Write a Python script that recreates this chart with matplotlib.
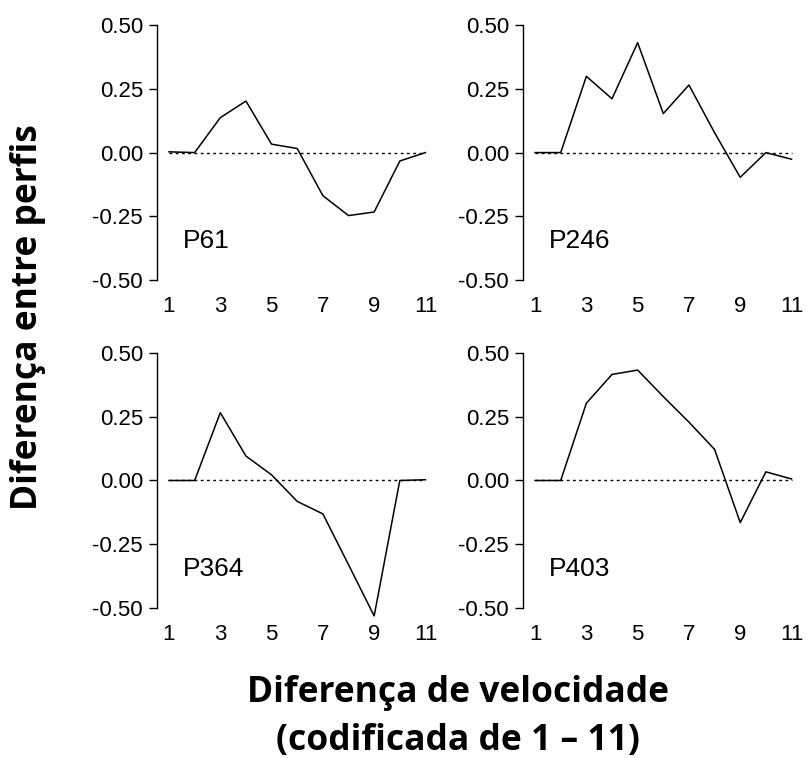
import matplotlib
matplotlib.use("Agg")
import matplotlib.pyplot as plt

x = list(range(1, 12))
panels = ["P61", "P246", "P364", "P403"]
p61 = [0.003, 0.0, 0.137, 0.202, 0.033, 0.016, -0.169, -0.247, -0.233, -0.033, 0.0]
p246 = [0.0, 0.0, 0.299, 0.211, 0.431, 0.153, 0.265, 0.078, -0.097, 0.0, -0.026]
p364 = [0.0, 0.0, 0.266, 0.096, 0.022, -0.082, -0.131, -0.33, -0.531, 0.0, 0.003]
p403 = [0.0, 0.0, 0.303, 0.416, 0.433, 0.329, 0.229, 0.122, -0.165, 0.034, 0.006]
series = [p61, p246, p364, p403]
yticks = [-0.50, -0.25, 0.00, 0.25, 0.50]
xticks = [1, 3, 5, 7, 9, 11]

plt.rcParams["font.family"] = ["Liberation Sans", "DejaVu Sans"]

fig = plt.figure(figsize=(8.09, 7.58), dpi=100)

# axes boxes in figure fractions: left, bottom, width, height
boxes = [
    (0.194, 0.6103, 0.3414, 0.3768),
    (0.6465, 0.6103, 0.3414, 0.3768),
    (0.194, 0.1777, 0.3414, 0.3768),
    (0.6465, 0.1777, 0.3414, 0.3768),
]

for box, name, vals in zip(boxes, panels, series):
    ax = fig.add_axes(box)
    ax.plot(x, vals, color="black", linewidth=1.1)
    ax.plot([1, 11], [0, 0], color="black", linewidth=1.0, linestyle=(0, (2, 2.5)))
    ax.set_xlim(0.53, 11.3)
    ax.set_ylim(-0.56, 0.56)
    ax.patch.set_visible(False)
    ax.spines["top"].set_visible(False)
    ax.spines["right"].set_visible(False)
    ax.spines["bottom"].set_visible(False)
    ax.spines["left"].set_bounds(-0.5, 0.5)
    ax.spines["left"].set_linewidth(1.0)
    ax.set_yticks(yticks)
    ax.set_yticklabels([f"{v:.2f}" for v in yticks])
    ax.set_xticks(xticks)
    ax.tick_params(axis="y", length=5.8, width=1.0, labelsize=16, pad=4.3)
    ax.tick_params(axis="x", length=0, labelsize=16, pad=0.5)
    ax.text(1.53, -0.376, name, fontsize=19, ha="left", va="baseline")

bold = dict(fontsize=25.5, fontweight="bold", family=["Open Sans", "DejaVu Sans"])
fig.text(0.0346, 0.582, "Diferença entre perfis", rotation=90, ha="center", va="center", **bold)
fig.text(0.566, 0.0739, "Diferença de velocidade", ha="center", va="baseline", **bold)
fig.text(0.566, 0.0106, "(codificada de 1 – 11)", ha="center", va="baseline", **bold)

fig.savefig("out.png", dpi=100)
